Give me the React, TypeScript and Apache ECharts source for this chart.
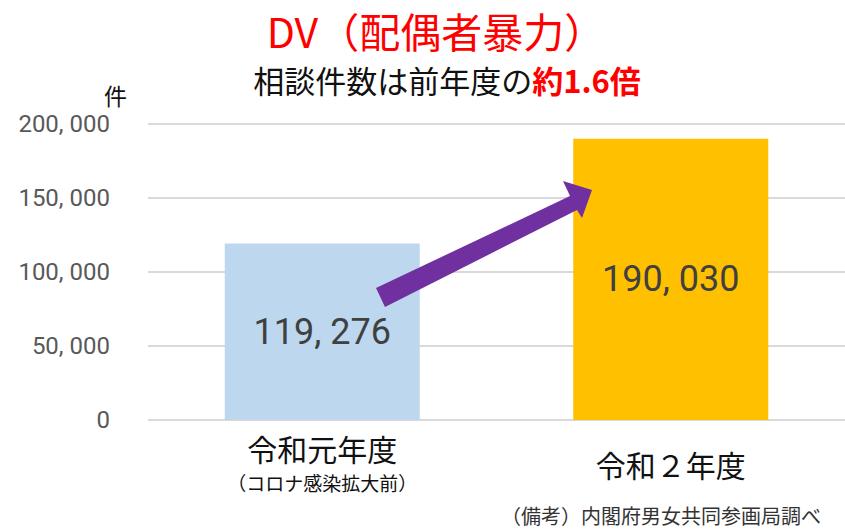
import React, { useEffect, useRef } from "react";
import * as echarts from "echarts";

const categories = ["令和元年度", "令和２年度"];
const categoryNotes = ["（コロナ感染拡大前）", ""];
const values = [119276, 190030];
const barColors = ["#BDD7EE", "#FFC000"];
const yTicks = [0, 50000, 100000, 150000, 200000];
const titleMain = "DV（配偶者暴力）";
const subtitlePlain = "相談件数は前年度の";
const subtitleEmph = "約1.6倍";
const unitLabel = "件";
const sourceNote = "（備考）内閣府男女共同参画局調べ";

const CJK = '"Noto Sans CJK JP", "Noto Sans", sans-serif';
const NUM = 'Roboto, "Noto Sans CJK JP", sans-serif';

const fmt = (v: number) => v.toLocaleString("en-US").replace(/,/g, ", ");

export default function App() {
  const ref = useRef<HTMLDivElement>(null);
  useEffect(() => {
    if (!ref.current) return;
    const chart = echarts.init(ref.current, undefined, { renderer: "svg" });
    chart.setOption({
      animation: false,
      backgroundColor: "#ffffff",
      title: [
        {
          text: titleMain,
          left: 436,
          textAlign: "center",
          top: 8,
          padding: 0,
          textStyle: { color: "#FF0000", fontSize: 41, lineHeight: 44, fontWeight: "normal", fontFamily: CJK },
        },
        {
          text: `{a|${subtitlePlain}}{b|${subtitleEmph}}`,
          left: 447,
          textAlign: "center",
          top: 63,
          padding: 0,
          textStyle: {
            fontWeight: "normal",
            rich: {
              a: { color: "#111111", fontSize: 31, lineHeight: 32, fontWeight: "normal", fontFamily: CJK },
              b: { color: "#FF0000", fontSize: 31, lineHeight: 32, fontWeight: "bold", fontFamily: CJK },
            },
          },
        },
        {
          text: sourceNote,
          right: 24,
          bottom: 3,
          padding: 0,
          textStyle: { color: "#333333", fontSize: 20, lineHeight: 22, fontWeight: "normal", fontFamily: CJK },
        },
      ],
      grid: { left: 148, width: 703, top: 124, bottom: 109, containLabel: false },
      xAxis: {
        type: "category",
        data: categories,
        axisLine: { show: false },
        axisTick: { show: false },
        axisLabel: {
          margin: 10,
          interval: 0,
          formatter: (v: string, i: number) =>
            categoryNotes[i] ? `{a|${v}}\n{b|${categoryNotes[i]}}` : `{c|${v}}`,
          rich: {
            a: { fontSize: 30, lineHeight: 36, color: "#111111", fontFamily: CJK },
            b: { fontSize: 19, lineHeight: 32, color: "#111111", fontFamily: CJK },
            c: { fontSize: 30, lineHeight: 68, color: "#111111", fontFamily: CJK },
          },
        },
      },
      yAxis: {
        type: "value",
        min: yTicks[0],
        max: yTicks[yTicks.length - 1],
        interval: yTicks[1] - yTicks[0],
        axisLine: { show: false },
        axisTick: { show: false },
        splitLine: { lineStyle: { color: "#D9D9D9", width: 2 } },
        axisLabel: {
          margin: 38,
          fontSize: 24,
          color: "#595959",
          fontFamily: NUM,
          formatter: (v: number) => fmt(v),
        },
      },
      series: [
        {
          type: "bar",
          barWidth: 195,
          data: values.map((v, i) => ({ value: v, itemStyle: { color: barColors[i] } })),
          label: {
            show: true,
            position: "inside",
            fontSize: 36,
            color: "#404040",
            fontFamily: NUM,
            formatter: (p: any) => fmt(p.value),
          },
        },
      ],
      graphic: [
        {
          type: "text",
          left: 104,
          top: 83,
          style: { text: unitLabel, fontSize: 23, fill: "#111111", fontFamily: CJK },
        },
        {
          type: "polygon",
          z: 100,
          shape: {
            points: [
              [376, 288],
              [570, 196],
              [563, 181],
              [592, 190],
              [582, 218],
              [577, 210],
              [385, 307],
            ],
          },
          style: { fill: "#7030A0" },
        },
      ],
    });
    return () => chart.dispose();
  }, []);
  return (
    <div
      ref={ref}
      style={{ position: "absolute", left: 0, top: 0, width: 845, height: 529 }}
    />
  );
}
